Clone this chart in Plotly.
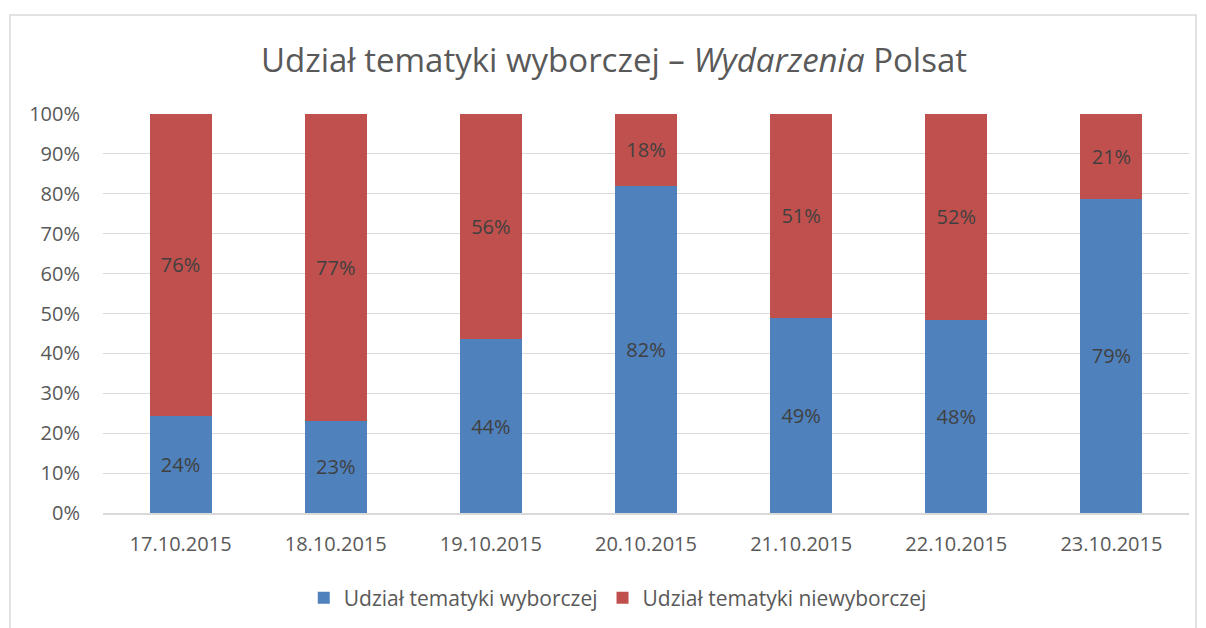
import plotly.graph_objects as go

dates = ["17.10.2015", "18.10.2015", "19.10.2015", "20.10.2015",
         "21.10.2015", "22.10.2015", "23.10.2015"]
wyborcza = [24.4, 23.1, 43.6, 82.0, 48.9, 48.4, 78.8]
niewyborcza = [75.6, 76.9, 56.4, 18.0, 51.1, 51.6, 21.2]
series_names = ["Udział tematyki wyborczej", "Udział tematyki niewyborczej"]
colors = ["#4F81BD", "#C0504D"]
y_ticks = [0, 10, 20, 30, 40, 50, 60, 70, 80, 90, 100]

FONT = "Open Sans"
TXT = "#595959"

fig = go.Figure()
for name, vals, col in zip(series_names, [wyborcza, niewyborcza], colors):
    fig.add_trace(go.Bar(
        x=dates, y=vals, name=name,
        marker=dict(color=col, line=dict(width=0)),
        text=[f"{round(v):d}%" for v in vals],
        textposition="inside", insidetextanchor="middle", textangle=0,
        textfont=dict(family=FONT, size=20, color="#404040"),
        constraintext="none",
    ))

fig.update_layout(
    barmode="stack",
    bargap=0.6,
    width=1206, height=628,
    autosize=False,
    margin=dict(l=95, r=25, t=106, b=123, autoexpand=False),
    paper_bgcolor="white", plot_bgcolor="white",
    font=dict(family=FONT, color=TXT, size=20),
    title=dict(text="Udział tematyki wyborczej – <i>Wydarzenia</i> Polsat",
               x=0.5025, xanchor="center", y=0.917, yanchor="middle",
               font=dict(family=FONT, size=33, color=TXT)),
    showlegend=True,
    legend=dict(orientation="h", x=0.474, xanchor="center",
                y=-0.213, yanchor="middle",
                font=dict(family=FONT, size=21, color=TXT),
                traceorder="normal"),
)
fig.update_xaxes(type="category", tickangle=0, showgrid=False, showline=True,
                 linecolor="#d9d9d9", linewidth=2,
                 ticks="outside", ticklen=12, tickcolor="rgba(0,0,0,0)",
                 tickfont=dict(family=FONT, size=20, color=TXT), fixedrange=True)
fig.update_yaxes(range=[0, 100], tickvals=y_ticks, ticktext=[f"{t}%" for t in y_ticks],
                 showgrid=True, gridcolor="#d9d9d9", gridwidth=1.3, zeroline=False,
                 ticks="outside", ticklen=18, tickcolor="rgba(0,0,0,0)",
                 tickfont=dict(family=FONT, size=20, color=TXT), fixedrange=True)

fig.add_shape(type="rect", xref="paper", yref="paper",
              x0=-0.0856, x1=1.0064, y0=-0.4, y1=1.248,
              line=dict(color="#d9d9d9", width=1.5), fillcolor="rgba(0,0,0,0)",
              layer="below")

fig.write_html("out.html")
